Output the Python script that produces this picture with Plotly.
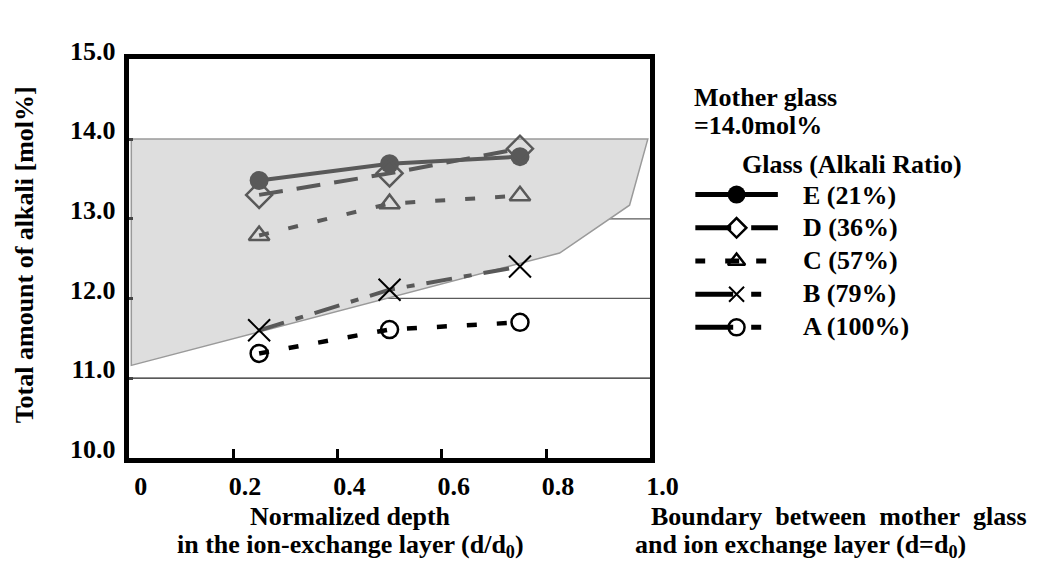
import plotly.graph_objects as go

# ---------------- data ----------------
depth = [0.25, 0.5, 0.75]
glass_E = [13.48, 13.69, 13.78]
glass_D = [13.30, 13.57, 13.88]
glass_C = [12.79, 13.19, 13.29]
glass_B = [11.60, 12.11, 12.40]
glass_A = [11.31, 11.61, 11.70]

series_names = ["E (21%)", "D (36%)", "C (57%)", "B (79%)", "A (100%)"]

region_x = [0.005, 0.995, 0.96, 0.826, 0.005]
region_y = [14.0, 14.0, 13.17, 12.57, 11.16]

x_tickvals = [0, 0.2, 0.4, 0.6, 0.8, 1.0]
x_ticktext = ["0", "0.2", "0.4", "0.6", "0.8", "1.0"]
y_tickvals = [10, 11, 12, 13, 14, 15]
y_ticktext = ["10.0", "11.0", "12.0", "13.0", "14.0", "15.0"]
grid_vals = [11, 12, 13]

# ---------------- layout helpers ----------------
W, H = 1051, 562
FONT = "Liberation Serif"
FS = 26


def px(x):
    return x / W


def py(y):
    return 1 - y / H


GRAY = "#595959"

fig = go.Figure()

# shaded region as shape (below everything)
path = "M " + " L ".join(f"{x},{y}" for x, y in zip(region_x, region_y)) + " Z"
fig.add_shape(type="path", path=path, xref="x", yref="y", layer="below",
              fillcolor="#dedede", line=dict(color="#9a9a9a", width=1.5))

# horizontal gridlines drawn above the shaded region
grid_colors = ["#222222", "#5a5a5a", "#5a5a5a"]
for gv, gc in zip(grid_vals, grid_colors):
    fig.add_shape(type="line", xref="x domain", yref="y", x0=0, x1=1, y0=gv, y1=gv,
                  layer="below", line=dict(color=gc, width=1.2))

series = [
    (glass_E, dict(color=GRAY, width=4, dash="solid"),
     dict(symbol="circle", size=19, color=GRAY, line=dict(width=0))),
    (glass_D, dict(color=GRAY, width=4, dash="24px,14px"),
     dict(symbol="diamond-open", size=20, color=GRAY, line=dict(width=2.5, color=GRAY))),
    (glass_C, dict(color=GRAY, width=4, dash="10px,20px"),
     dict(symbol="triangle-up-open", size=18, color=GRAY, line=dict(width=2.5, color=GRAY))),
    (glass_B, dict(color=GRAY, width=4, dash="26px,12px,8px,12px"),
     dict(symbol="x-thin-open", size=22, color="black", line=dict(width=2, color="black"))),
    (glass_A, dict(color="black", width=4.5, dash="10px,20px"),
     dict(symbol="circle-open", size=17, color="black", line=dict(width=2.5, color="black"))),
]

for (vals, line, marker), name in zip(series, series_names):
    fig.add_trace(go.Scatter(x=depth, y=vals, mode="lines+markers", name=name,
                             line=line, marker=marker, showlegend=False,
                             xaxis="x", yaxis="y"))

# ---------------- custom legend (hidden axes) ----------------
legend_line_styles = [
    dict(color="black", width=5, dash="solid"),
    dict(color="black", width=5, dash="36px,20px,30px,200px"),
    dict(color="black", width=5, dash="10px,20px,14px,17px,10px,200px"),
    dict(color="black", width=5, dash="38px,18px,10px,200px"),
    dict(color="black", width=5, dash="38px,18px,10px,200px"),
]
legend_markers = [
    dict(symbol="circle", size=18, color="black"),
    dict(symbol="diamond-open", size=15, color="black", line=dict(width=2.5, color="black")),
    dict(symbol="triangle-up-open", size=15, color="black", line=dict(width=2.5, color="black")),
    dict(symbol="x-thin-open", size=15, color="black", line=dict(width=2, color="black")),
    dict(symbol="circle-open", size=16, color="black", line=dict(width=2.5, color="black")),
]
for i, (ls, mk) in enumerate(zip(legend_line_styles, legend_markers)):
    fig.add_trace(go.Scatter(x=[0, 1], y=[i, i], mode="lines", line=ls,
                             showlegend=False, hoverinfo="skip",
                             xaxis="x2", yaxis="y2"))
    fig.add_trace(go.Scatter(x=[0.5], y=[i], mode="markers", marker=mk,
                             showlegend=False, hoverinfo="skip",
                             xaxis="x2", yaxis="y2"))

annotations = []
row_y = [173, 207, 242, 277, 312]
for name, ry in zip(series_names, row_y):
    annotations.append(dict(x=px(815), y=py(ry), text=name, xanchor="left"))

annotations += [
    dict(x=px(703), y=py(70), text="Mother glass", xanchor="left"),
    dict(x=px(703), y=py(100), text="=14.0mol%", xanchor="left"),
    dict(x=px(752), y=py(141), text="Glass (Alkali Ratio)", xanchor="left"),
    dict(x=px(17), y=py(236), text="Total amount of alkali [mol%]", textangle=-90,
         xanchor="center"),
    dict(x=px(352), y=py(512), text="Normalized depth", xanchor="center"),
    dict(x=px(352), y=py(543), text="in the ion-exchange layer (d/d<sub>0</sub>)",
         xanchor="center"),
    dict(x=px(1049), y=py(512), text="Boundary\u00a0 between\u00a0 mother\u00a0 glass",
         xanchor="right"),
    dict(x=px(642), y=py(543), text="and ion exchange layer (d=d<sub>0</sub>)",
         xanchor="left"),
]
for a in annotations:
    a.setdefault("xref", "paper")
    a.setdefault("yref", "paper")
    a.setdefault("showarrow", False)
    a.setdefault("yanchor", "middle")
    a["font"] = dict(family=FONT, size=FS, color="black", weight=700)

fig.update_layout(
    width=W, height=H,
    margin=dict(l=0, r=0, t=0, b=0),
    paper_bgcolor="white", plot_bgcolor="white",
    font=dict(family=FONT, size=FS, color="black", weight=700),
    xaxis=dict(domain=[px(124), px(660)], range=[0, 1], tickvals=x_tickvals,
               ticktext=x_ticktext, showgrid=False, zeroline=False,
               showline=True, linewidth=5, linecolor="black", mirror=True,
               ticks="inside", ticklen=9, tickwidth=3, tickcolor="black",
               ticklabelshift=12, ticklabelstandoff=1,
               tickfont=dict(family=FONT, size=FS, weight=700)),
    yaxis=dict(domain=[py(450), py(30)], range=[10, 15], tickvals=y_tickvals,
               ticktext=y_ticktext, showgrid=False,
               zeroline=False, showline=True, linewidth=5, linecolor="black",
               mirror=True, ticks="inside", ticklen=4, tickwidth=3, tickcolor="#444",
               ticklabelshift=-9, ticklabelstandoff=3,
               tickfont=dict(family=FONT, size=FS, weight=700)),
    xaxis2=dict(domain=[px(706), px(791)], range=[0, 1], visible=False, anchor="y2"),
    yaxis2=dict(domain=[py(330), py(155)], range=[4.5, -0.5], visible=False, anchor="x2"),
    annotations=annotations,
    showlegend=False,
)

fig.write_html("out.html")
